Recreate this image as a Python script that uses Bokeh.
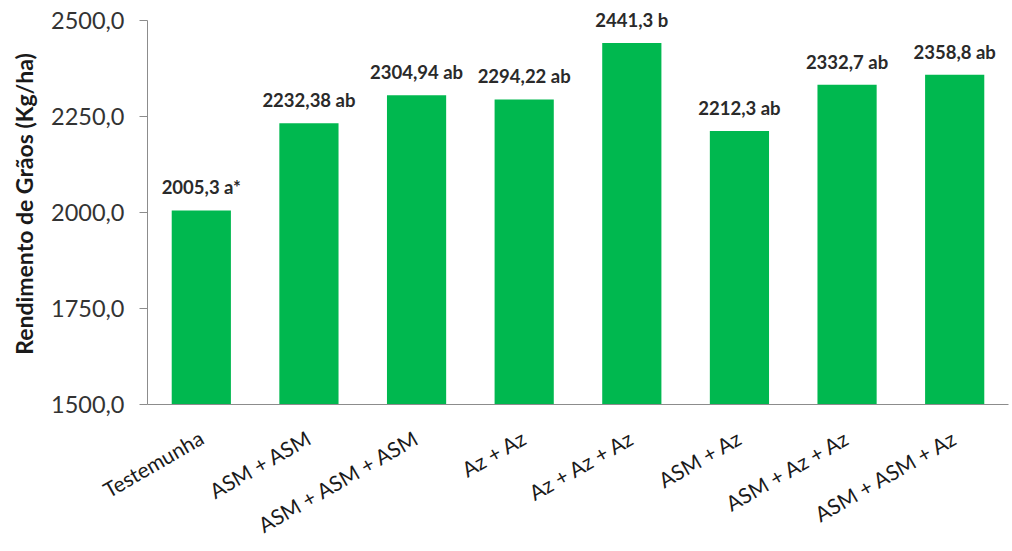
import math
from bokeh.plotting import figure
from bokeh.models import ColumnDataSource, FactorRange, Range1d, CustomJSTickFormatter, FixedTicker, LabelSet
from bokeh.core.properties import value
from bokeh.embed import file_html
from bokeh.resources import INLINE

categories = ["Testemunha", "ASM + ASM", "ASM + ASM + ASM", "Az + Az", "Az + Az + Az",
              "ASM + Az", "ASM + Az + Az", "ASM + ASM + Az"]
yields = [2005.3, 2232.38, 2304.94, 2294.22, 2441.3, 2212.3, 2332.7, 2358.8]
bar_labels = ["2005,3 a*", "2232,38 ab", "2304,94 ab", "2294,22 ab", "2441,3 b",
              "2212,3 ab", "2332,7 ab", "2358,8 ab"]
y_ticks = [1500, 1750, 2000, 2250, 2500]

FONT = "Lato"

src = ColumnDataSource(dict(x=categories, top=yields, lab=bar_labels))

# a little head-room above the last tick so the top value label is not clipped
p = figure(x_range=FactorRange(*categories), y_range=Range1d(y_ticks[0], y_ticks[-1] + 44),
           width=1012, height=551, output_backend="svg", toolbar_location=None,
           min_border_left=147, min_border_right=4, min_border_top=3, min_border_bottom=147)

p.vbar(x="x", top="top", bottom=y_ticks[0], width=0.55, source=src,
       fill_color="#00B84F", line_color=None)
labels = LabelSet(x="x", y="top", text="lab", source=src, text_align="center",
                  text_baseline="alphabetic", y_offset=16, text_font=value(FONT),
                  text_font_size="18.5px", text_font_style="bold", text_color="#2a2a2a")
p.add_layout(labels)

p.xgrid.grid_line_color = None
p.ygrid.grid_line_color = None
p.outline_line_color = None

p.yaxis.bounds = (y_ticks[0], y_ticks[-1])
p.yaxis.ticker = FixedTicker(ticks=y_ticks)
p.yaxis.formatter = CustomJSTickFormatter(code="return tick.toFixed(1).replace('.', ',');")
p.yaxis.axis_label = "Rendimento de Grãos (Kg/ha)"
p.yaxis.axis_label_text_font = FONT
p.yaxis.axis_label_text_font_style = "bold"
p.yaxis.axis_label_text_font_size = "23px"
p.yaxis.axis_label_text_color = "#1a1a1a"
p.yaxis.axis_label_standoff = 10
p.yaxis.major_label_text_font = FONT
p.yaxis.major_label_text_font_size = "23.5px"
p.yaxis.major_label_text_color = "#333333"
p.yaxis.major_tick_out = 8
p.yaxis.major_tick_in = 0
p.yaxis.minor_tick_out = 0
p.yaxis.minor_tick_in = 0
p.yaxis.axis_line_color = "#8c8c8c"
p.yaxis.major_tick_line_color = "#8c8c8c"
p.yaxis.major_label_standoff = 15

p.xaxis.axis_line_color = "#8c8c8c"
p.xaxis.major_tick_line_color = None
p.xaxis.major_tick_out = 0
p.xaxis.major_tick_in = 0
p.xaxis.major_label_orientation = math.radians(30)
p.xaxis.major_label_text_font = FONT
p.xaxis.major_label_text_font_size = "21px"
p.xaxis.major_label_text_color = "#1a1a1a"
p.xaxis.major_label_standoff = 31

open("out.html", "w").write(file_html(p, INLINE))
